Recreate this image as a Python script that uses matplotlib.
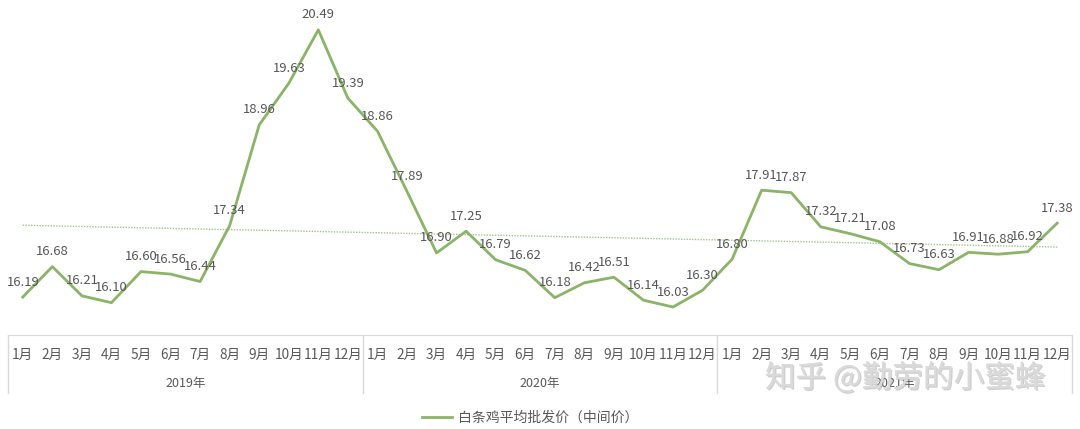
import numpy as np
import matplotlib.pyplot as plt
import matplotlib.patheffects as pe

plt.rcParams['font.family'] = ['Noto Sans CJK SC', 'DejaVu Sans']

years = ["2019年", "2020年", "2021年"]
months = ["1月", "2月", "3月", "4月", "5月", "6月", "7月", "8月", "9月", "10月", "11月", "12月"]
price_2019 = [16.19, 16.68, 16.21, 16.10, 16.60, 16.56, 16.44, 17.34, 18.96, 19.63, 20.49, 19.39]
price_2020 = [18.86, 17.89, 16.90, 17.25, 16.79, 16.62, 16.18, 16.42, 16.51, 16.14, 16.03, 16.30]
price_2021 = [16.80, 17.91, 17.87, 17.32, 17.21, 17.08, 16.73, 16.63, 16.91, 16.88, 16.92, 17.38]
series_name = "白条鸡平均批发价（中间价）"

prices = price_2019 + price_2020 + price_2021
x = np.arange(len(prices))

W, H = 1080, 429
fig = plt.figure(figsize=(W / 100, H / 100), dpi=100)
ax = fig.add_axes([8 / W, (H - 335) / H, 1064 / W, 335 / H])

line_color = "#8AB467"
text_color = "#595959"
grid_color = "#D9D9D9"

ax.plot(x, prices, color=line_color, lw=2, label=series_name, zorder=3)

# linear trendline
k, b = np.polyfit(x, prices, 1)
ax.plot(x, k * x + b, color="#A4C28A", lw=1, ls=(0, (1, 1)), zorder=2)

for xi, v in zip(x, prices):
    ax.annotate(f"{v:.2f}", (xi, v), textcoords="offset pixels", xytext=(0, 15),
                ha="center", va="center", fontsize=9.4, color="#575757", zorder=4)

ax.set_xlim(-0.5, len(prices) - 0.5)
ax.set_ylim(15.58, 20.97)
ax.set_xticks([])
ax.set_yticks([])
for s in ["left", "right", "top"]:
    ax.spines[s].set_visible(False)
ax.spines["bottom"].set_color(grid_color)

# two level category axis
tr = ax.get_xaxis_transform()
for i, xi in enumerate(x):
    ax.annotate(months[i % 12], (xi, 0), xycoords=tr, textcoords="offset pixels",
                xytext=(0, -20), ha="center", va="center", fontsize=9.8, color=text_color)
for j, yr in enumerate(years):
    ax.annotate(yr, (j * 12 + 5.5, 0), xycoords=tr, textcoords="offset pixels",
                xytext=(0, -48), ha="center", va="center", fontsize=9, color=text_color)
for j in range(len(years) + 1):
    ax.plot([j * 12 - 0.5] * 2, [0, -58 / 335], transform=tr, color=grid_color,
            lw=1, clip_on=False)

fig.legend(loc="center", bbox_to_anchor=(530 / W, 1 - 418 / H), frameon=False,
           fontsize=10, labelcolor=text_color, handlelength=2.2, handletextpad=0.4)

fig.text(905 / W, 1 - 378 / H, "知乎 @勤劳的小蜜蜂", fontsize=22, color="#DADADA",
         ha="center", va="center",
         path_effects=[pe.withSimplePatchShadow(offset=(1, -1), shadow_rgbFace="#A0A0A0", alpha=0.5), pe.Normal()])

fig.savefig("out.png", dpi=100, facecolor="white")
